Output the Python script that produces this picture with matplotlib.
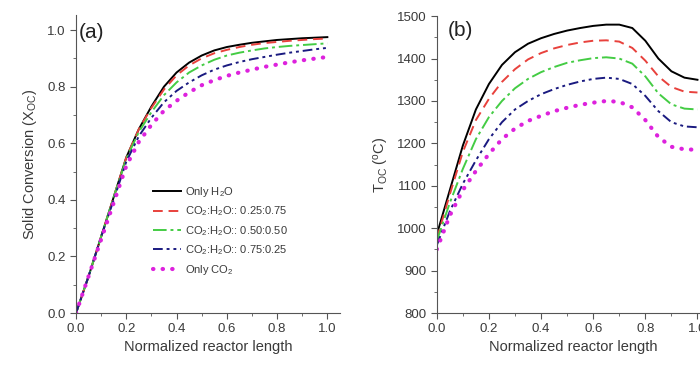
import numpy as np
import matplotlib
matplotlib.use("Agg")
from matplotlib import pyplot as plt
from matplotlib.ticker import MultipleLocator

plt.rcParams["font.family"] = ["Liberation Sans", "DejaVu Sans"]
plt.rcParams["mathtext.fontset"] = "custom"
plt.rcParams["mathtext.rm"] = "Liberation Sans"
plt.rcParams["mathtext.it"] = "Liberation Sans"

# 数据
x = [0, .05, .1, .15, .2, .25, .3, .35, .4, .45, .5,
     .55, .6, .65, .7, .75, .8, .85, .9, .95, 1.0]

labels = ["Only H$_2$O", "CO$_2$:H$_2$O:: 0.25:0.75", "CO$_2$:H$_2$O:: 0.50:0.50",
          "CO$_2$:H$_2$O:: 0.75:0.25", "Only CO$_2$"]

conv_h2o = [0, 0.13, 0.27, 0.41, 0.55, 0.65, 0.73, 0.80, 0.85, 0.885, 0.91,
            0.928, 0.94, 0.948, 0.955, 0.96, 0.965, 0.968, 0.971, 0.973, 0.975]
conv_25 = [0, 0.13, 0.27, 0.41, 0.55, 0.65, 0.725, 0.79, 0.84, 0.875, 0.90,
           0.918, 0.93, 0.94, 0.948, 0.954, 0.958, 0.962, 0.965, 0.968, 0.97]
conv_50 = [0, 0.13, 0.27, 0.41, 0.545, 0.64, 0.71, 0.77, 0.815, 0.85, 0.875,
           0.895, 0.91, 0.92, 0.928, 0.935, 0.94, 0.944, 0.947, 0.95, 0.953]
conv_75 = [0, 0.13, 0.27, 0.40, 0.535, 0.625, 0.69, 0.745, 0.785, 0.815, 0.84,
           0.86, 0.875, 0.887, 0.897, 0.905, 0.913, 0.92, 0.926, 0.932, 0.937]
conv_co2 = [0, 0.13, 0.26, 0.39, 0.52, 0.605, 0.665, 0.715, 0.75, 0.78, 0.805,
            0.823, 0.838, 0.85, 0.86, 0.87, 0.878, 0.886, 0.893, 0.899, 0.905]

temp_h2o = [985, 1090, 1195, 1280, 1340, 1385, 1415, 1435, 1448, 1458, 1466,
            1472, 1477, 1480, 1480, 1472, 1442, 1400, 1370, 1355, 1350]
temp_25 = [975, 1080, 1180, 1255, 1305, 1345, 1375, 1398, 1413, 1424, 1432,
           1438, 1442, 1443, 1440, 1425, 1395, 1358, 1333, 1322, 1320]
temp_50 = [970, 1060, 1140, 1210, 1262, 1300, 1330, 1352, 1368, 1380, 1390,
           1396, 1401, 1403, 1400, 1388, 1358, 1318, 1292, 1282, 1280]
temp_75 = [960, 1040, 1105, 1160, 1210, 1250, 1280, 1300, 1316, 1328, 1338,
           1346, 1352, 1355, 1352, 1340, 1312, 1276, 1250, 1240, 1238]
temp_co2 = [950, 1030, 1090, 1135, 1175, 1210, 1235, 1253, 1265, 1276, 1284,
            1291, 1296, 1300, 1298, 1285, 1255, 1215, 1192, 1186, 1185]

styles = [
    dict(color="black", linestyle="-", linewidth=1.4),
    dict(color="#e8413c", linestyle=(0, (5, 3)), linewidth=1.4),
    dict(color="#44cc44", linestyle=(0, (7, 2, 1.5, 2)), linewidth=1.4),
    dict(color="#1a1a80", linestyle=(0, (5, 2, 1.5, 2, 1.5, 2)), linewidth=1.4),
    dict(color="#dd22dd", linestyle=(0, (0.1, 2.2)), linewidth=3.0, dash_capstyle="round"),
]

TXT = "#3a3a3a"


def style_axis(ax):
    for s in ["top", "right"]:
        ax.spines[s].set_visible(False)
    for s in ["left", "bottom"]:
        ax.spines[s].set_color("#555555")
    ax.tick_params(which="both", direction="out", colors="#555555",
                   labelcolor=TXT, labelsize=9.5)
    ax.tick_params(which="major", length=4)
    ax.tick_params(which="minor", length=2)
    ax.xaxis.set_major_locator(MultipleLocator(0.2))
    ax.xaxis.set_minor_locator(MultipleLocator(0.1))
    ax.set_xlabel("Normalized reactor length", fontsize=10.5, color=TXT, labelpad=3)


def main():
    fig = plt.figure(figsize=(7, 3.67), dpi=100)

    # 第一幅图
    ax1 = fig.add_axes([0.1086, 0.147, 0.377, 0.812])
    for y, lab, st in zip([conv_h2o, conv_25, conv_50, conv_75, conv_co2], labels, styles):
        ax1.plot(x, y, label=lab, **st)
    ax1.set_xlim(0, 1.05)
    ax1.set_ylim(0, 1.053)
    ax1.yaxis.set_major_locator(MultipleLocator(0.2))
    ax1.yaxis.set_minor_locator(MultipleLocator(0.1))
    style_axis(ax1)
    ax1.set_ylabel("Solid Conversion (X$_{OC}$)", fontsize=10.5, color=TXT, labelpad=6)
    ax1.text(0.01, 0.94, "(a)", transform=ax1.transAxes, fontsize=15,
             color="#222222", va="center")
    ax1.legend(loc="upper left", bbox_to_anchor=(0.29, 0.43), frameon=False,
               fontsize=8, handlelength=2.6, labelspacing=0.5,
               handletextpad=0.3, borderpad=0, borderaxespad=0, labelcolor=TXT)

    # 第二幅图
    ax2 = fig.add_axes([0.624, 0.147, 0.391, 0.809])
    for y, st in zip([temp_h2o, temp_25, temp_50, temp_75, temp_co2], styles):
        ax2.plot(x, y, **st)
    ax2.set_xlim(0, 1.05)
    ax2.set_ylim(800, 1500)
    ax2.yaxis.set_major_locator(MultipleLocator(100))
    ax2.yaxis.set_minor_locator(MultipleLocator(50))
    style_axis(ax2)
    ax2.set_ylabel("T$_{OC}$ ($^{\\rm o}$C)", fontsize=10.5, color=TXT, labelpad=4)
    ax2.text(0.04, 0.95, "(b)", transform=ax2.transAxes, fontsize=15,
             color="#222222", va="center")

    fig.savefig("out.png", dpi=100)


if __name__ == "__main__":
    main()
